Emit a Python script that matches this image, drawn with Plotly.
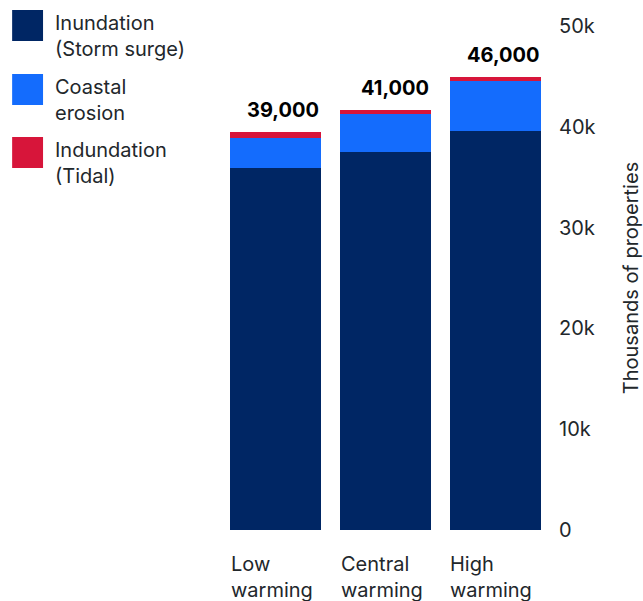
import plotly.graph_objects as go

categories = ["Low<br>warming", "Central<br>warming", "High<br>warming"]
series_names = ["Inundation<br>(Storm surge)", "Coastal<br>erosion", "Indundation<br>(Tidal)"]
storm_surge = [35.9, 37.5, 39.6]
coastal_erosion = [3.0, 3.8, 4.9]
tidal = [0.6, 0.4, 0.4]
total_labels = ["39,000", "41,000", "46,000"]
y_tickvals = [0, 10, 20, 30, 40, 50]
y_ticktext = ["0", "10k", "20k", "30k", "40k", "50k"]
colors = ["#002664", "#146CFD", "#D7153A"]

W, H = 643, 601
L, R, T, B = 220.5, 92.5, 26, 71
PW, PH = W - L - R, H - T - B
FONT = "Inter"
TXT = "#22272B"

def px_x(px):
    return (px - L) / PW

def px_y(py):
    return (H - B - py) / PH

fig = go.Figure()
for name, vals, c in zip(series_names, [storm_surge, coastal_erosion, tidal], colors):
    fig.add_trace(go.Bar(x=categories, y=vals, name=name, marker_color=c,
                         marker_line_width=0, showlegend=False, hoverinfo="skip"))

totals = [a + b + c for a, b, c in zip(storm_surge, coastal_erosion, tidal)]
annotations = []
for cat, tot, lab in zip(categories, totals, total_labels):
    annotations.append(dict(x=cat, y=tot, xref="x", yref="y", text="<b>" + lab + "</b>",
                            showarrow=False, xanchor="right", yanchor="bottom",
                            xshift=45.5, yshift=8, font=dict(family=FONT, size=20, color="#000000")))
    annotations.append(dict(x=cat, y=0, xref="x", yref="paper", text=cat, align="left",
                            showarrow=False, xanchor="left", yanchor="top",
                            xshift=-47, yshift=-20, font=dict(family=FONT, size=20, color=TXT)))

shapes = []
sq_tops = [10, 74, 137]
for top, name, c in zip(sq_tops, series_names, colors):
    shapes.append(dict(type="rect", xref="paper", yref="paper",
                       x0=px_x(11), x1=px_x(42), y0=px_y(top + 31), y1=px_y(top),
                       fillcolor=c, line_width=0))
    annotations.append(dict(x=px_x(52), y=px_y(top - 1), xref="paper", yref="paper",
                            text=name, align="left", showarrow=False,
                            xanchor="left", yanchor="top",
                            font=dict(family=FONT, size=20, color=TXT)))

fig.update_layout(
    width=W, height=H, barmode="stack", bargap=0.173,
    margin=dict(l=L, r=R, t=T, b=B, autoexpand=False),
    plot_bgcolor="white", paper_bgcolor="white",
    font=dict(family=FONT, size=20, color=TXT),
    xaxis=dict(showticklabels=False, showgrid=False, zeroline=False, showline=False),
    yaxis=dict(side="right", range=[0, 50], tickvals=y_tickvals, ticktext=y_ticktext,
               showgrid=False, zeroline=False, showline=False, ticks="",
               ticklabelstandoff=8,
               tickfont=dict(family=FONT, size=20, color=TXT),
               title=dict(text="Thousands of properties", standoff=30,
                          font=dict(family=FONT, size=20, color=TXT))),
    shapes=shapes, annotations=annotations,
)
fig.write_html("out.html", config={"displayModeBar": False},
               post_script="document.body.style.margin='0';")
